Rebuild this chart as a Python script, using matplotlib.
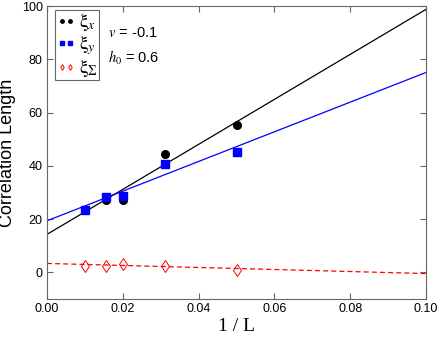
import matplotlib
matplotlib.use("Agg")
import matplotlib.pyplot as plt
import numpy as np

# data
inv_L = [0.01, 0.015625, 0.02, 0.03125, 0.05]
xi_x = [23.5, 27.2, 27.3, 44.3, 55.5]
xi_y = [23.5, 28.2, 28.6, 40.8, 45.4]
xi_sum = [2.4, 2.5, 3.0, 2.5, 0.9]

# linear fits (intercept, slope)
fit_x = (14.3, 845.0)
fit_y = (19.4, 557.0)
fit_sum = (3.4, -38.0)
fit_range = [0.0, 0.1]

plt.rcParams['mathtext.fontset'] = 'stix'
plt.rcParams['font.family'] = ['Liberation Sans', 'DejaVu Sans']

fig = plt.figure(figsize=(4.43, 3.38), dpi=100)
ax = fig.add_axes([0.106, 0.115, 0.856, 0.867])

xr = np.array(fit_range)
ax.plot(xr, fit_x[0] + fit_x[1] * xr, color='black', lw=0.9)
ax.plot(xr, fit_y[0] + fit_y[1] * xr, color='blue', lw=0.9)
ax.plot(xr, fit_sum[0] + fit_sum[1] * xr, color='red', lw=0.9, ls=(0, (4, 2.5)))

p1, = ax.plot(inv_L, xi_x, 'o', color='black', ms=5.5, label=r'$\mathrm{\xi}_x$')
p2, = ax.plot(inv_L, xi_y, 's', color='blue', ms=5.5, label=r'$\mathrm{\xi}_y$')
p3, = ax.plot(inv_L, xi_sum, 'd', mfc='none', mec='red', mew=0.7, ms=6.5,
              label=r'$\mathrm{\xi}_\Sigma$')

ax.set_xlim(0, 0.1)
ax.set_ylim(-10, 100)
ax.set_xticks([0, 0.02, 0.04, 0.06, 0.08, 0.10])
ax.set_xticklabels(['0.00', '0.02', '0.04', '0.06', '0.08', '0.10'])
ax.set_yticks([0, 20, 40, 60, 80, 100])

for s in ax.spines.values():
    s.set_color('#666666')
    s.set_linewidth(0.8)
ax.tick_params(direction='in', top=True, right=True, length=4, width=0.8,
               color='#666666', labelsize=9, pad=3)

ax.set_ylabel('Correlation Length', fontsize=13, labelpad=4)
ax.set_xlabel('1 / L', fontsize=14, family=['Liberation Serif'], labelpad=2)

leg = ax.legend(handles=[p1, p2, p3], loc='upper left', numpoints=2,
                fontsize=14, fancybox=False, framealpha=1, borderpad=0.05,
                handlelength=1.0, handletextpad=0.15, labelspacing=0.0,
                borderaxespad=0, markerscale=0.45, bbox_to_anchor=(0.022, 0.985))
leg.get_frame().set_edgecolor('#666666')
leg.get_frame().set_linewidth(0.8)

ax.text(0.0162, 88.5, r'$\mathit{v}$ = -0.1', fontsize=10.5)
ax.text(0.0162, 78.5, r'$h_0$ = 0.6', fontsize=10.5)

fig.savefig('out.png', dpi=100)
